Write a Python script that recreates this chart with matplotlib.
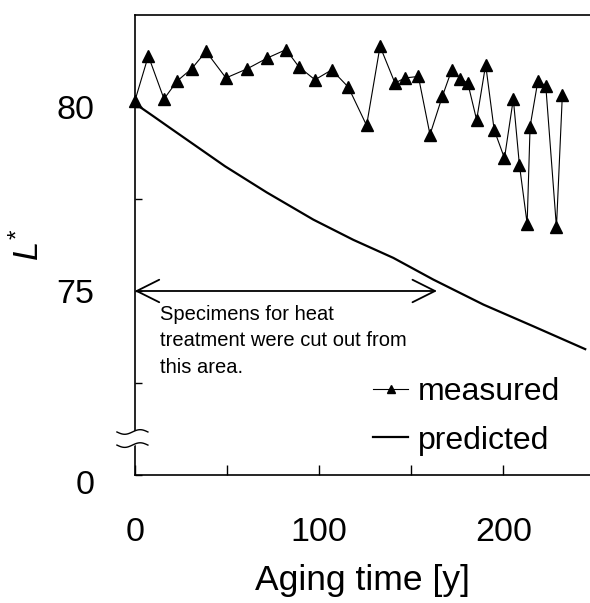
import numpy as np
import matplotlib; matplotlib.use("Agg")
import matplotlib.pyplot as plt
from matplotlib.transforms import ScaledTranslation

plt.rcParams["font.family"] = ["Liberation Sans", "DejaVu Sans"]
plt.rcParams["mathtext.fontset"] = "custom"
plt.rcParams["mathtext.it"] = "Liberation Sans:italic"
plt.rcParams["mathtext.rm"] = "Liberation Sans"

# --- measured L* values ---
meas_t = [0, 7.4, 15.9, 23.1, 30.9, 38.7, 49.5, 61.1, 71.9, 82.1, 89.1, 97.8,
          106.9, 115.9, 125.8, 133.1, 141.2, 146.6, 153.9, 160.2, 166.9, 172.0,
          176.5, 180.7, 185.5, 190.4, 195.0, 200.6, 205.4, 208.7, 212.9, 214.5,
          218.7, 223.0, 228.8, 232.0]
meas_L = [80.15, 81.39, 80.22, 80.71, 81.04, 81.51, 80.79, 81.04, 81.33, 81.56,
          81.09, 80.74, 81.01, 80.54, 79.50, 81.65, 80.65, 80.79, 80.83, 79.25,
          80.29, 81.01, 80.77, 80.65, 79.65, 81.15, 79.38, 78.61, 80.22, 78.43,
          76.83, 79.47, 80.70, 80.58, 76.73, 80.33]

# --- predicted curve ---
pred_t = [0, 10.1, 19.2, 49.0, 71.6, 96.9, 118.6, 140.3, 162.0, 189.2, 216.3, 244.4]
pred_L = [80.1, 79.75, 79.43, 78.39, 77.68, 76.94, 76.39, 75.90, 75.31, 74.63, 74.04, 73.42]

# specimen range arrow
spec_range = (0, 164)

fig = plt.figure(figsize=(5.9, 6.03), dpi=100)
ax = fig.add_axes([0.2283, 0.2123, 0.7717, 0.7628])

ax.plot(pred_t, pred_L, "-", color="black", lw=1.6, label="predicted", zorder=2)
ax.plot(meas_t, meas_L, "^-", color="black", lw=0.8, markersize=9,
        label="measured", zorder=3, clip_on=False)

ax.set_xlim(0, 247)
ax.set_ylim(70, 82.5)

ax.set_xticks([0, 100, 200])
ax.set_xticks([50, 150], minor=True)
ax.set_yticks([70, 75, 80])
ax.set_yticklabels(["0", "75", "80"])
ax.set_yticks([72.5, 77.5], minor=True)
ax.tick_params(axis="both", which="both", direction="in", width=1.0, labelsize=24.5)
ax.tick_params(axis="x", which="both", length=7, pad=30)
ax.tick_params(axis="y", which="both", length=5, pad=29)
ax.spines["right"].set_visible(False)
for s in ["left", "top", "bottom"]:
    ax.spines[s].set_linewidth(1.2)

# the "0" below the break sits a little lower
lab0 = ax.get_yticklabels()[0]
lab0.set_transform(lab0.get_transform() + ScaledTranslation(0, -5 / 72, fig.dpi_scale_trans))

ax.set_xlabel("Aging time [y]", fontsize=25.5, labelpad=12)
ax.set_ylabel(r"$L^{\mathrm{*}}$", fontsize=25, labelpad=8)

# arrow + note
ax.annotate("", xy=(spec_range[0], 75), xytext=(spec_range[1], 75),
            arrowprops=dict(arrowstyle="<->,head_length=0.9,head_width=0.45",
                            lw=1.3, color="black", mutation_scale=18,
                            shrinkA=0, shrinkB=0))
ax.text(13.7, 74.62, "Specimens for heat\ntreatment were cut out from\nthis area.",
        fontsize=14.5, va="top", ha="left", linespacing=1.5)

# axis break marks
xs = np.linspace(-0.039, 0.029, 40)
wave = 0.005 * np.sin((xs - xs[0]) / (xs[-1] - xs[0]) * 2 * np.pi)
ax.fill_between(xs, 0.0935 - wave, 0.065 - wave, color="white",
                transform=ax.transAxes, clip_on=False, zorder=5)
ax.plot(xs, 0.0935 - wave, color="black", lw=1.0, transform=ax.transAxes,
        clip_on=False, zorder=6)
ax.plot(xs, 0.065 - wave, color="black", lw=1.0, transform=ax.transAxes,
        clip_on=False, zorder=6)

handles, labels = ax.get_legend_handles_labels()
ax.legend(handles[::-1], labels[::-1], loc="upper left",
          bbox_to_anchor=(0.5235, 0.213), frameon=False, fontsize=23,
          handlelength=1.1, handletextpad=0.3, labelspacing=0.58,
          borderpad=0, borderaxespad=0, markerscale=0.6)

fig.savefig("out.png", dpi=100, facecolor="white")
